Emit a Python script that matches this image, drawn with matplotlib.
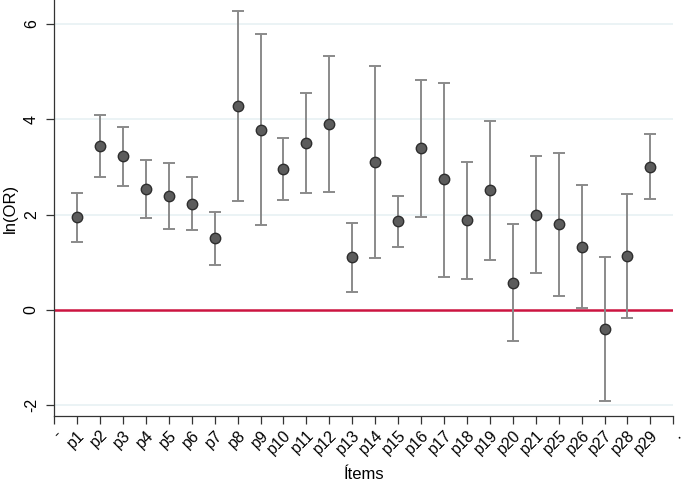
import numpy as np
import matplotlib
matplotlib.use("Agg")
from matplotlib import pyplot as plt

plt.rcParams['font.family'] = ['Liberation Sans', 'DejaVu Sans']

# items and estimates
items = ['p1', 'p2', 'p3', 'p4', 'p5', 'p6', 'p7', 'p8', 'p9', 'p10', 'p11', 'p12', 'p13',
         'p14', 'p15', 'p16', 'p17', 'p18', 'p19', 'p20', 'p21', 'p25', 'p26', 'p27', 'p28', 'p29']
ln_or = [1.94, 3.44, 3.22, 2.53, 2.39, 2.23, 1.50, 4.28, 3.78, 2.96, 3.50, 3.90, 1.10,
         3.11, 1.86, 3.39, 2.74, 1.88, 2.51, 0.57, 2.00, 1.80, 1.33, -0.41, 1.14, 3.00]
ci_low = [1.43, 2.79, 2.60, 1.92, 1.70, 1.68, 0.94, 2.28, 1.79, 2.31, 2.46, 2.47, 0.37,
          1.08, 1.33, 1.95, 0.70, 0.65, 1.05, -0.65, 0.77, 0.30, 0.05, -1.92, -0.17, 2.32]
ci_high = [2.46, 4.08, 3.84, 3.15, 3.08, 2.79, 2.06, 6.26, 5.79, 3.61, 4.54, 5.32, 1.83,
           5.12, 2.39, 4.82, 4.76, 3.11, 3.96, 1.80, 3.23, 3.30, 2.62, 1.10, 2.44, 3.68]
tick_labels = ['-'] + items + ['.']

ln_or = np.array(ln_or)
ci_low = np.array(ci_low)
ci_high = np.array(ci_high)
x = np.arange(1, len(items) + 1)

fig = plt.figure(figsize=(6.85, 4.84), dpi=100)
ax = fig.add_axes([0.079, 0.14, 0.904, 0.86])

for yv in [-2, 2, 4, 6]:
    ax.axhline(yv, color='#e8f1f3', lw=1.2, zorder=0)
ax.axhline(0, color='#cc1440', lw=1.8, zorder=1)

ax.errorbar(x, ln_or, yerr=[ln_or - ci_low, ci_high - ln_or], fmt='none',
            ecolor='#8a8a8a', elinewidth=1.4, capsize=4, capthick=1.4, zorder=2)
ax.plot(x, ln_or, 'o', ms=7.5, mfc='#5c5c5c', mec='#2e2e2e', mew=1.0, zorder=3)

ax.set_xlim(0, len(items) + 1)
ax.set_ylim(-2.23, 6.5)
ax.set_xticks(np.arange(0, len(items) + 2))
ax.set_xticklabels(tick_labels, rotation=45, ha='right', rotation_mode='anchor', fontsize=11.5)
ax.set_yticks([-2, 0, 2, 4, 6])
ax.set_yticklabels(['-2', '0', '2', '4', '6'], rotation=90, va='center', fontsize=11.5)
ax.tick_params(length=6, width=0.9, color='#333333')
ax.tick_params(axis='x', pad=2)
ax.tick_params(axis='y', pad=5)

for s in ['top', 'right']:
    ax.spines[s].set_visible(False)
for s in ['left', 'bottom']:
    ax.spines[s].set_color('#333333')
    ax.spines[s].set_linewidth(0.9)

ax.set_xlabel('Ítems', fontsize=12, labelpad=7)
ax.set_ylabel('ln(OR)', fontsize=12, labelpad=4)

fig.savefig('out.png', dpi=100)
